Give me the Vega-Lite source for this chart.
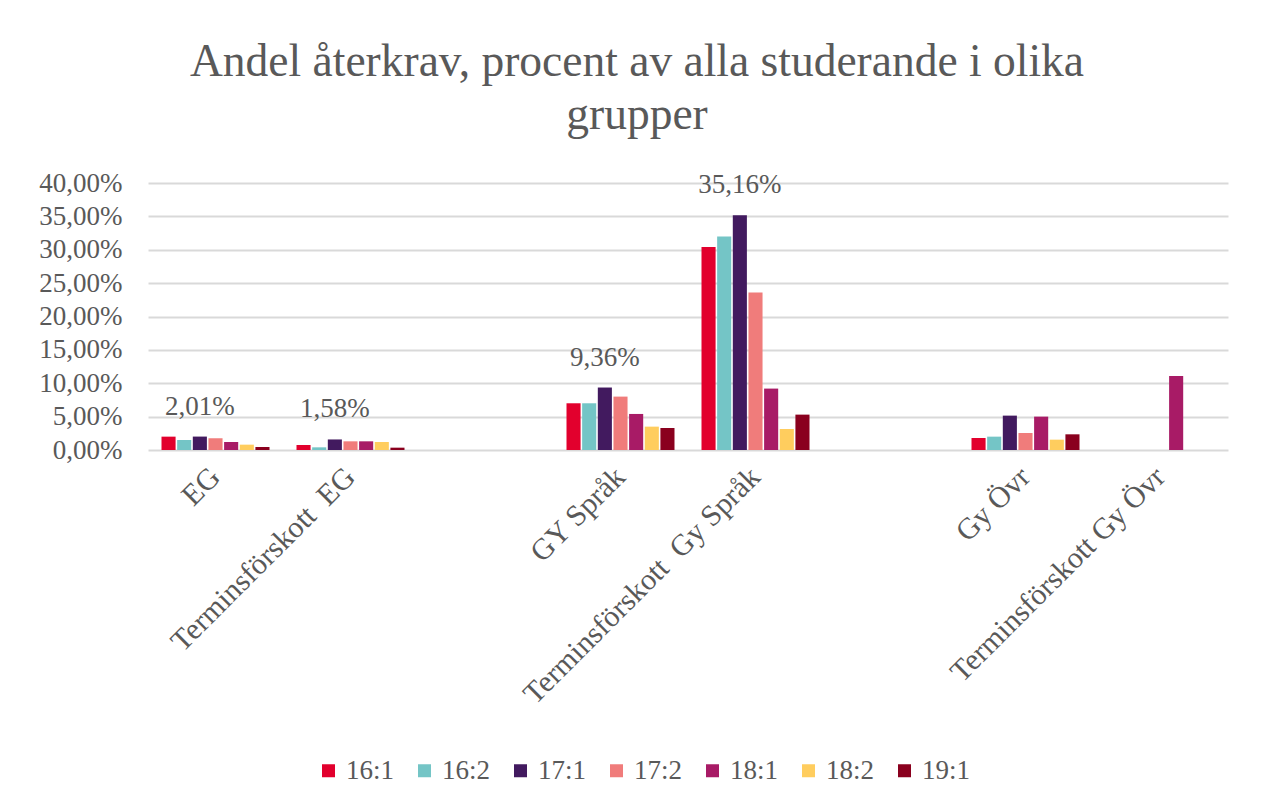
{
  "$schema": "https://vega.github.io/schema/vega-lite/v6.json",
  "width": 1080,
  "height": 267,
  "autosize": {"type": "none"},
  "padding": {"left": 148, "top": 183, "right": 37, "bottom": 359},
  "background": "white",
  "title": {
    "text": ["Andel återkrav, procent av alla studerande i olika", "grupper"],
    "font": "Liberation Serif",
    "fontSize": 45.5,
    "fontWeight": "normal",
    "color": "#595959",
    "lineHeight": 53,
    "anchor": "middle",
    "dx": -51,
    "offset": 31
  },
  "data": {
    "values": [
      {"grupp": "EG", "termin": "16:1", "andel": 2.0},
      {"grupp": "EG", "termin": "16:2", "andel": 1.5},
      {"grupp": "EG", "termin": "17:1", "andel": 2.01, "etikett": "2,01%"},
      {"grupp": "EG", "termin": "17:2", "andel": 1.75},
      {"grupp": "EG", "termin": "18:1", "andel": 1.2},
      {"grupp": "EG", "termin": "18:2", "andel": 0.8},
      {"grupp": "EG", "termin": "19:1", "andel": 0.45},
      {"grupp": "Terminsförskott\u00a0 EG", "termin": "16:1", "andel": 0.75},
      {"grupp": "Terminsförskott\u00a0 EG", "termin": "16:2", "andel": 0.4},
      {"grupp": "Terminsförskott\u00a0 EG", "termin": "17:1", "andel": 1.58, "etikett": "1,58%"},
      {"grupp": "Terminsförskott\u00a0 EG", "termin": "17:2", "andel": 1.3},
      {"grupp": "Terminsförskott\u00a0 EG", "termin": "18:1", "andel": 1.3},
      {"grupp": "Terminsförskott\u00a0 EG", "termin": "18:2", "andel": 1.2},
      {"grupp": "Terminsförskott\u00a0 EG", "termin": "19:1", "andel": 0.35},
      {"grupp": "GY Språk", "termin": "16:1", "andel": 7.0},
      {"grupp": "GY Språk", "termin": "16:2", "andel": 7.0},
      {"grupp": "GY Språk", "termin": "17:1", "andel": 9.36, "etikett": "9,36%"},
      {"grupp": "GY Språk", "termin": "17:2", "andel": 8.0},
      {"grupp": "GY Språk", "termin": "18:1", "andel": 5.4},
      {"grupp": "GY Språk", "termin": "18:2", "andel": 3.5},
      {"grupp": "GY Språk", "termin": "19:1", "andel": 3.3},
      {"grupp": "Terminsförskott\u00a0 Gy Språk", "termin": "16:1", "andel": 30.4},
      {"grupp": "Terminsförskott\u00a0 Gy Språk", "termin": "16:2", "andel": 32.0},
      {"grupp": "Terminsförskott\u00a0 Gy Språk", "termin": "17:1", "andel": 35.16, "etikett": "35,16%"},
      {"grupp": "Terminsförskott\u00a0 Gy Språk", "termin": "17:2", "andel": 23.6},
      {"grupp": "Terminsförskott\u00a0 Gy Språk", "termin": "18:1", "andel": 9.2},
      {"grupp": "Terminsförskott\u00a0 Gy Språk", "termin": "18:2", "andel": 3.15},
      {"grupp": "Terminsförskott\u00a0 Gy Språk", "termin": "19:1", "andel": 5.3},
      {"grupp": "Gy Övr", "termin": "16:1", "andel": 1.8},
      {"grupp": "Gy Övr", "termin": "16:2", "andel": 2.0},
      {"grupp": "Gy Övr", "termin": "17:1", "andel": 5.15},
      {"grupp": "Gy Övr", "termin": "17:2", "andel": 2.55},
      {"grupp": "Gy Övr", "termin": "18:1", "andel": 5.0},
      {"grupp": "Gy Övr", "termin": "18:2", "andel": 1.55},
      {"grupp": "Gy Övr", "termin": "19:1", "andel": 2.35},
      {"grupp": "Terminsförskott Gy Övr", "termin": "18:1", "andel": 11.1}
    ]
  },
  "encoding": {
    "x": {
      "field": "grupp",
      "type": "nominal",
      "title": null,
      "scale": {
        "domain": ["EG", "Terminsförskott\u00a0 EG", " ", "GY Språk", "Terminsförskott\u00a0 Gy Språk", "  ", "Gy Övr", "Terminsförskott Gy Övr"],
        "paddingInner": 0.2,
        "paddingOuter": 0.1
      },
      "axis": {
        "labelAngle": -45,
        "labelAlign": "right",
        "labelBaseline": "middle",
        "labelPadding": 22,
        "labelLimit": 500,
        "labelFont": "Liberation Serif",
        "labelFontSize": 30,
        "labelColor": "#595959",
        "ticks": false,
        "domain": false,
        "grid": false
      }
    },
    "xOffset": {
      "field": "termin",
      "type": "nominal",
      "scale": {
        "domain": ["16:1", "16:2", "17:1", "17:2", "18:1", "18:2", "19:1"],
        "paddingInner": 0.1,
        "paddingOuter": 0
      }
    },
    "y": {
      "field": "andel",
      "type": "quantitative",
      "title": null,
      "scale": {"domain": [0, 40], "nice": false},
      "axis": {
        "values": [0, 5, 10, 15, 20, 25, 30, 35, 40],
        "labelExpr": "replace(format(datum.value, '.2f'), '.', ',') + '%'",
        "labelFont": "Liberation Serif",
        "labelFontSize": 27,
        "labelColor": "#595959",
        "labelPadding": 26,
        "ticks": false,
        "domain": false,
        "grid": true,
        "gridColor": "#d9d9d9",
        "gridWidth": 2
      }
    }
  },
  "layer": [
    {
      "mark": {"type": "bar"},
      "encoding": {
        "color": {
          "field": "termin",
          "type": "nominal",
          "scale": {
            "domain": ["16:1", "16:2", "17:1", "17:2", "18:1", "18:2", "19:1"],
            "range": ["#e2002d", "#74c5c6", "#421a5f", "#f07c7b", "#a81b66", "#ffcd5e", "#8a001e"]
          },
          "legend": {
            "title": null,
            "orient": "none",
            "direction": "horizontal",
            "legendX": 167,
            "legendY": 574,
            "symbolType": "square",
            "symbolSize": 169,
            "symbolStrokeWidth": 0,
            "labelFont": "Liberation Serif",
            "labelFontSize": 27,
            "labelColor": "#595959",
            "labelOffset": 4,
            "columnPadding": 16,
            "padding": 0
          }
        }
      }
    },
    {
      "transform": [{"filter": "isValid(datum.etikett)"}],
      "mark": {
        "type": "text",
        "baseline": "alphabetic",
        "align": "center",
        "dy": -22,
        "font": "Liberation Serif",
        "fontSize": 27,
        "color": "#595959"
      },
      "encoding": {
        "text": {"field": "etikett"}
      }
    }
  ],
  "config": {
    "view": {"stroke": null},
    "font": "Liberation Serif"
  }
}
